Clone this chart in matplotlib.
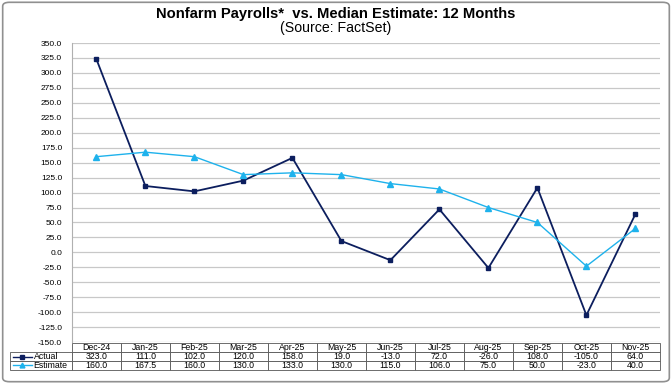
import numpy as np
import matplotlib.pyplot as plt
from matplotlib.lines import Line2D
from matplotlib.patches import FancyBboxPatch

plt.rcParams['font.family'] = ['Liberation Sans', 'DejaVu Sans']

months = ['Dec-24', 'Jan-25', 'Feb-25', 'Mar-25', 'Apr-25', 'May-25',
          'Jun-25', 'Jul-25', 'Aug-25', 'Sep-25', 'Oct-25', 'Nov-25']
actual = [323.0, 111.0, 102.0, 120.0, 158.0, 19.0, -13.0, 72.0, -26.0, 108.0, -105.0, 64.0]
estimate = [160.0, 167.5, 160.0, 130.0, 133.0, 130.0, 115.0, 106.0, 75.0, 50.0, -23.0, 40.0]

navy = '#0C1E5E'
sky = '#1EB2EC'

fig = plt.figure(figsize=(6.72, 3.84), dpi=100)
ax = fig.add_axes([0.107, 0.109, 0.875, 0.779])

x = np.arange(len(months))
ax.plot(x, actual, color=navy, lw=1.3, marker='s', ms=3.5, zorder=3)
ax.plot(x, estimate, color=sky, lw=1.0, marker='^', ms=4, zorder=3)

ax.set_xlim(-0.5, len(months) - 0.5)
ax.set_ylim(-150, 350)
yt = np.arange(-150, 351, 25)
ax.set_yticks(yt)
ax.set_yticklabels([f'{v:.1f}' for v in yt], fontsize=6)
ax.tick_params(axis='y', length=0, pad=7)
ax.set_xticks([])
ax.grid(axis='y', color='#C8C8C8', lw=0.9)
ax.set_axisbelow(True)
for s in ['top', 'right', 'bottom']:
    ax.spines[s].set_visible(False)
ax.spines['left'].set_color('#B0B0B0')

# data table under the chart, first column holds the series labels
lab_w = 0.105
cells = [['Actual'] + [f'{v:.1f}' for v in actual],
         ['Estimate'] + [f'{v:.1f}' for v in estimate]]
tbl = ax.table(cellText=cells, colLabels=[''] + months, cellLoc='center',
               bbox=[-lab_w, -0.092, 1 + lab_w, 0.088])
tbl.auto_set_font_size(False)
tbl.set_fontsize(6.3)
for (r, c), cell in tbl.get_celld().items():
    cell.set_linewidth(0.6)
    cell.set_edgecolor('#555555')
    cell.set_width(lab_w if c == 0 else 1 / 12)
    if c == 0:
        cell._loc = 'left'
        cell.get_text().set_horizontalalignment('left')
        cell.PAD = 0.38
tbl[0, 0].visible_edges = ''

# legend keys in the label cells
ax_pos = ax.get_position()
row_h = 0.088 / 3 * ax_pos.height
for i, (col, mk, ms) in enumerate([(navy, 's', 3), (sky, '^', 3.5)]):
    yf = ax_pos.y0 - 0.004 * ax_pos.height - row_h * (1.5 + i)
    fig.add_artist(Line2D([0.019, 0.033, 0.047], [yf, yf, yf], color=col, lw=1.0,
                          marker=mk, ms=ms, markevery=[1],
                          transform=fig.transFigure))

fig.text(0.5, 0.964, 'Nonfarm Payrolls*  vs. Median Estimate: 12 Months',
         ha='center', va='center', fontsize=10.6, fontweight='bold')
fig.text(0.5, 0.928, '(Source: FactSet)', ha='center', va='center', fontsize=10.2)

fig.add_artist(FancyBboxPatch((0.004, 0.006), 0.992, 0.988,
                              boxstyle='round,pad=0,rounding_size=0.01',
                              transform=fig.transFigure, fill=False,
                              edgecolor='#909090', lw=1.2))

fig.savefig('out.png', dpi=100)
